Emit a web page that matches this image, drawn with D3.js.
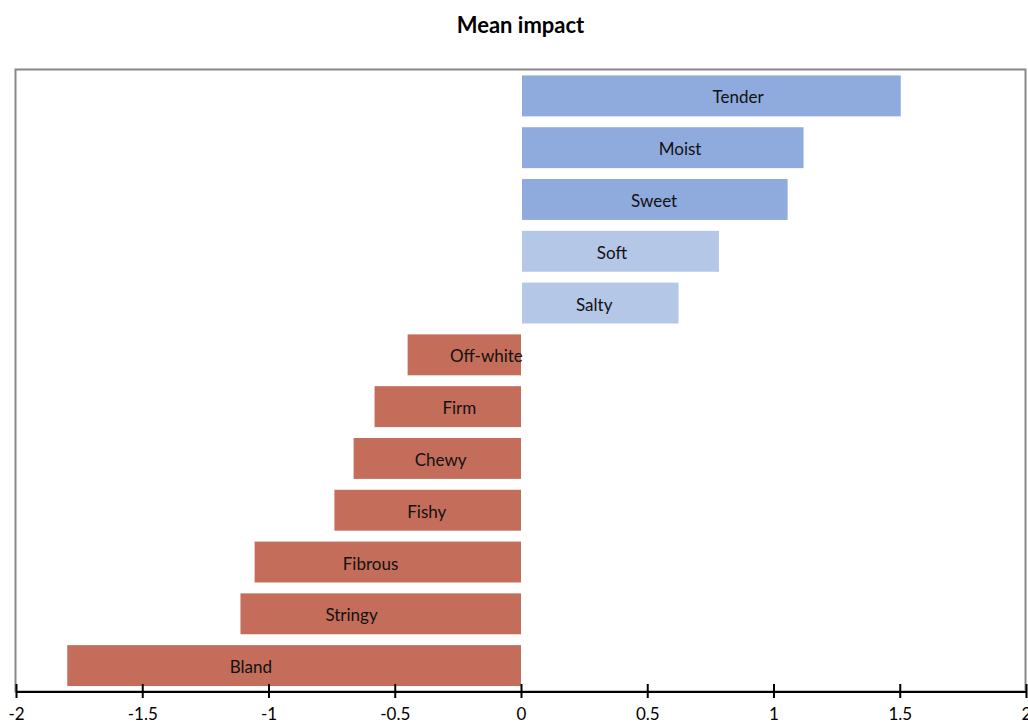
<!DOCTYPE html>
<html>
<head>
<meta charset="utf-8">
<script src="https://cdn.jsdelivr.net/npm/d3@7"></script>
<style>
  html, body { margin: 0; padding: 0; background: #fff; }
  svg { display: block; }
</style>
</head>
<body>
<svg id="chart" width="1028" height="724"></svg>
<script>
// ---- data ----
const categories = ["Tender","Moist","Sweet","Soft","Salty","Off-white","Firm","Chewy","Fishy","Fibrous","Stringy","Bland"];
const values = [1.50, 1.115, 1.052, 0.78, 0.62, -0.449, -0.580, -0.663, -0.739, -1.055, -1.111, -1.797];
const groups = ["strong","strong","strong","mild","mild","neg","neg","neg","neg","neg","neg","neg"];
const labelAnchors = [0.86, 0.63, 0.527, 0.36, 0.29, -0.137, -0.244, -0.318, -0.373, -0.596, -0.671, -1.07];
const tickValues = [-2, -1.5, -1, -0.5, 0, 0.5, 1, 1.5, 2];
const tickLabels = ["-2", "-1.5", "-1", "-0.5", "0", "0.5", "1", "1.5", "2"];
const title = "Mean impact";

// ---- layout ----
(function () {
const svg = d3.select("#chart");
const pLeft = 16, pRight = 1026, pTop = 70, pBottom = 691.5;
const font = "Lato, 'Open Sans', sans-serif";

const x = d3.scaleLinear().domain([-2, 2]).range([pLeft, pRight]);
const y = d3.scaleBand().domain(categories).range([pTop, pBottom]).paddingInner(0.21).paddingOuter(0.105);
const color = d3.scaleOrdinal().domain(["strong","mild","neg"]).range(["#8FAADC","#B4C7E7","#C46D5A"]);

// frame
svg.append("rect")
  .attr("x", 15.5).attr("y", 69.5)
  .attr("width", 1010).attr("height", pBottom - 69.5)
  .attr("fill", "none").attr("stroke", "#888").attr("stroke-width", 2);

// title
svg.append("text")
  .attr("x", 520.5).attr("y", 33)
  .attr("text-anchor", "middle")
  .attr("font-family", font).attr("font-weight", "bold").attr("font-size", 22)
  .attr("fill", "#000")
  .text(title);

// bars
const data = categories.map((c, i) => ({ c, v: values[i], g: groups[i], l: labelAnchors[i] }));
svg.append("g").selectAll("rect").data(data).join("rect")
  .attr("x", d => Math.min(x(0), x(d.v)) + (d.v >= 0 ? 1 : 0))
  .attr("y", d => y(d.c))
  .attr("width", d => Math.abs(x(d.v) - x(0)))
  .attr("height", y.bandwidth())
  .attr("fill", d => color(d.g));

// labels
svg.append("g").selectAll("text").data(data).join("text")
  .attr("x", d => x(d.l))
  .attr("y", d => y(d.c) + y.bandwidth() / 2 + 1)
  .attr("text-anchor", "middle")
  .attr("dominant-baseline", "central")
  .attr("font-family", font).attr("font-size", 17)
  .attr("fill", "#111")
  .text(d => d.c);

// x axis
const axis = svg.append("g")
  .attr("transform", `translate(0,${pBottom})`)
  .call(d3.axisBottom(x).tickValues(tickValues).tickSize(0)
    .tickFormat((d, i) => tickLabels[i]));
axis.select(".domain").attr("stroke", "#000").attr("stroke-width", 2.2);
axis.selectAll(".tick line").remove();
axis.selectAll(".tick").append("line")
  .attr("y1", -7.5).attr("y2", 6.5)
  .attr("stroke", "#000").attr("stroke-width", 2);
axis.selectAll(".tick text")
  .attr("y", 28.5).attr("dy", 0)
  .attr("font-family", font).attr("font-size", 17)
  .attr("fill", "#000");
})();
</script>
</body>
</html>
